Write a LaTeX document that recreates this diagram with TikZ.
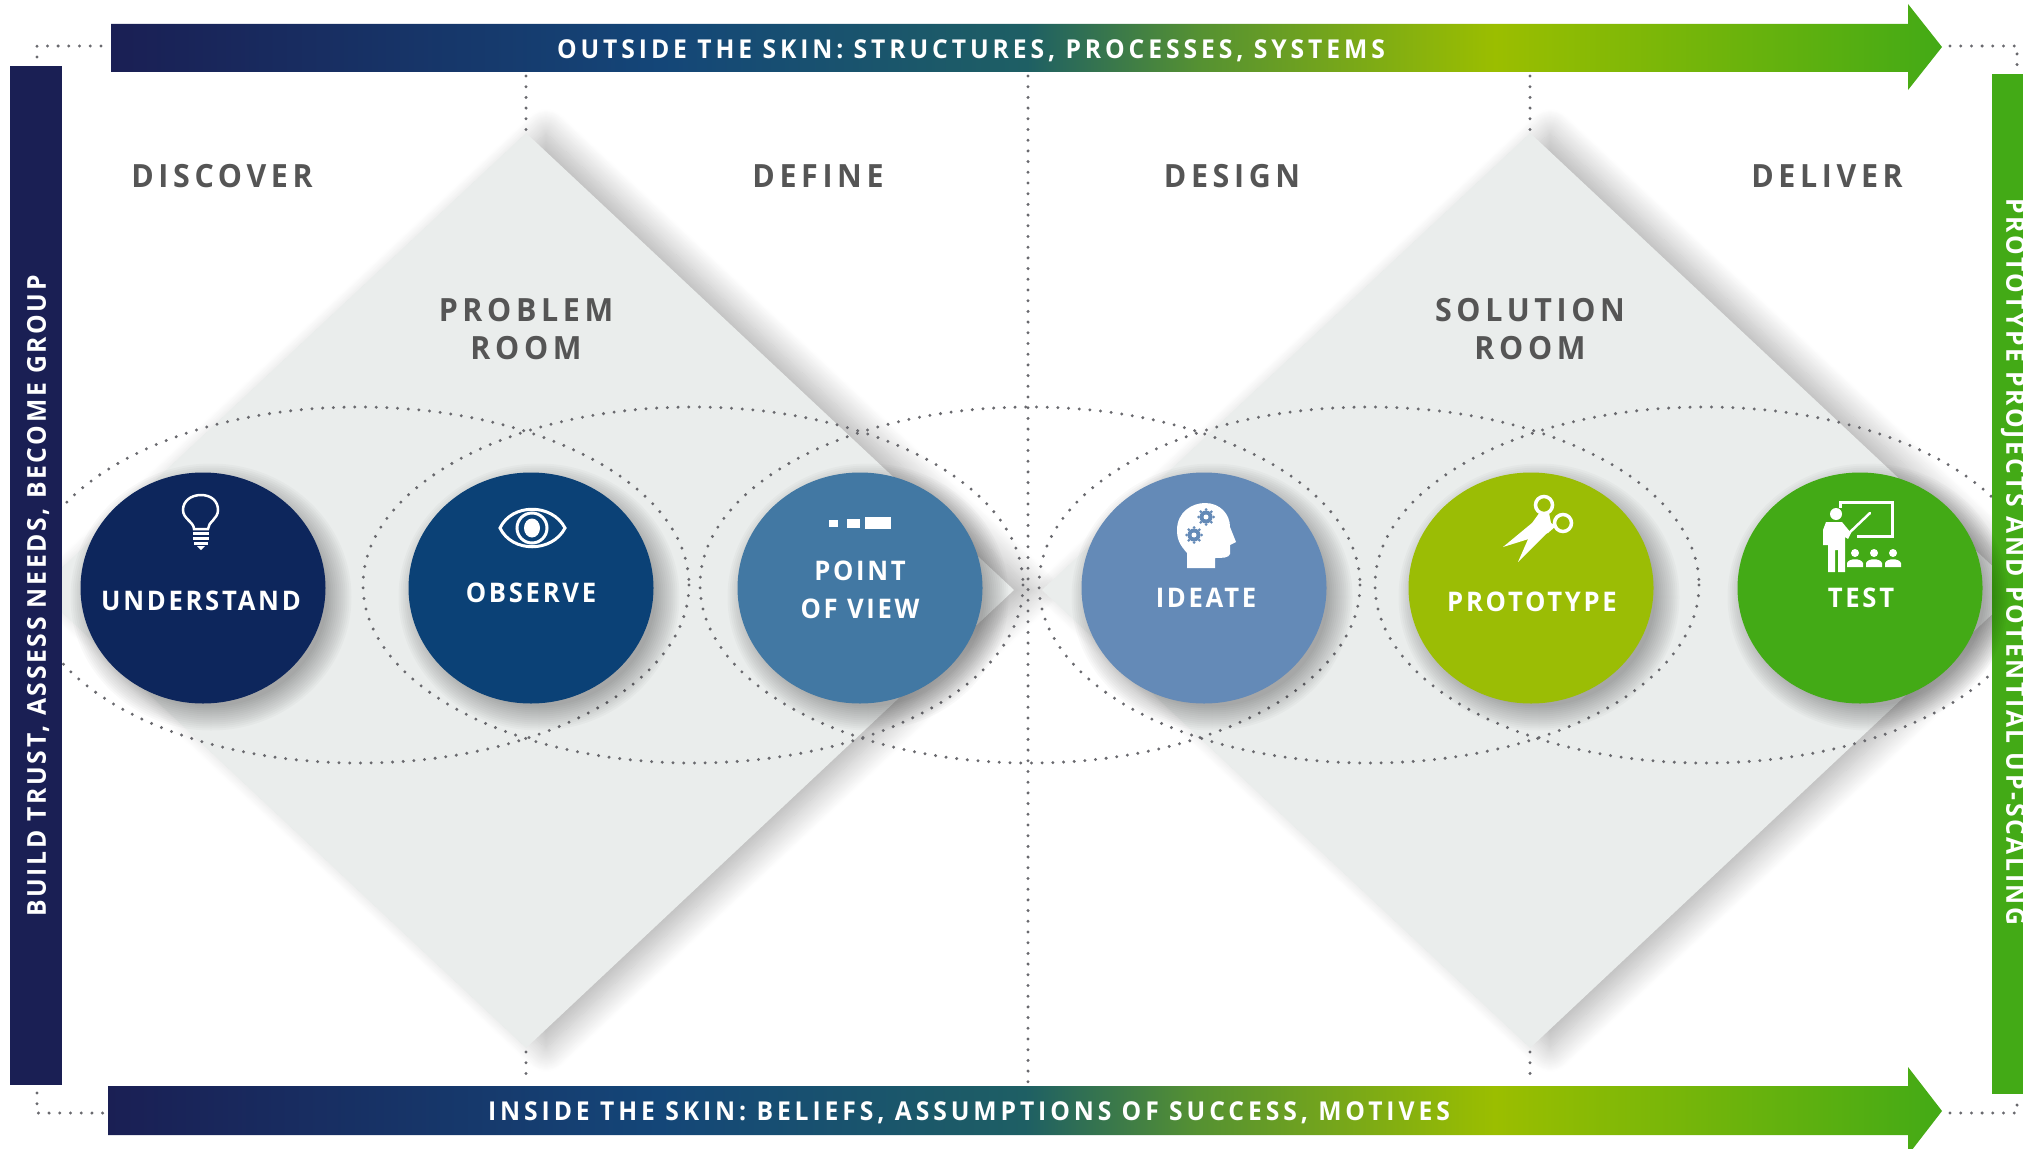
\documentclass[tikz,border=0pt]{standalone}
\usepackage{fontspec}
\setmainfont{Open Sans}
\newfontfamily\bandfont[LetterSpace=15,FakeStretch=0.95]{Open Sans}
\newfontfamily\sidefont[LetterSpace=10.3,FakeStretch=0.95]{Open Sans}
\newfontfamily\phasefont[LetterSpace=14.5,FakeStretch=0.95]{Open Sans}
\newfontfamily\stepfont[LetterSpace=10,FakeStretch=0.95]{Open Sans}
\usetikzlibrary{calc}
\usetikzlibrary{positioning}
\usetikzlibrary{shapes.geometric}
\usetikzlibrary{shadows.blur}

\definecolor{navyband}{RGB}{26,31,84}
\definecolor{midblue}{RGB}{20,70,120}
\definecolor{tealband}{RGB}{30,95,100}
\definecolor{oliveband}{RGB}{85,145,50}
\definecolor{limeband}{RGB}{155,190,0}
\definecolor{greenband}{RGB}{67,170,22}
\definecolor{roomgrey}{RGB}{234,237,236}
\definecolor{labelgrey}{RGB}{85,85,85}
\definecolor{dotgrey}{RGB}{105,105,110}
\definecolor{cunderstand}{RGB}{13,38,92}
\definecolor{cobserve}{RGB}{11,65,118}
\definecolor{cpoint}{RGB}{66,120,163}
\definecolor{cideate}{RGB}{100,138,183}
\definecolor{cproto}{RGB}{155,189,5}
\definecolor{ctest}{RGB}{67,170,22}

\pgfdeclarehorizontalshading{bandshade}{100bp}{
    color(0bp)=(navyband); color(25bp)=(navyband); color(40bp)=(midblue); color(50bp)=(tealband);
    color(54.7bp)=(oliveband); color(62.8bp)=(limeband); color(75bp)=(greenband); color(100bp)=(greenband)}

\tikzset{
    phase/.style={text=labelgrey,font=\phasefont\bfseries\fontsize{32}{32}\selectfont,inner sep=0pt},
    room/.style={text=labelgrey,font=\phasefont\bfseries\fontsize{32}{38}\selectfont,align=center,inner sep=0pt},
    band/.style={text=white,font=\bandfont\bfseries\fontsize{26}{26}\selectfont,inner sep=0pt},
    sideband/.style={text=white,font=\sidefont\bfseries\fontsize{26}{26}\selectfont,inner sep=0pt},
    steplabel/.style={text=white,font=\stepfont\bfseries\fontsize{27}{38}\selectfont,align=center,inner sep=0pt},
    stepdisc/.style={ellipse,draw=none,minimum width=245pt,minimum height=231pt,inner sep=0pt},
    roomshape/.style={fill=roomgrey,
        blur shadow={shadow xshift=20pt,shadow yshift=0pt,shadow blur radius=24pt,shadow blur steps=24,shadow opacity=30}},
    dotted line/.style={draw=dotgrey,line width=3.3pt,line cap=round,dash pattern=on 0pt off 10.7pt},
    icon/.style={draw=white,line width=2.5pt,fill=none},
}

\begin{document}
\begin{tikzpicture}[x=1pt,y=-1pt]
    \useasboundingbox (0,0) rectangle (2023,1148);
    \clip (0,0) rectangle (2023,1148);

    % the two rooms
    \fill[roomshape] (526,133) -- (1014,590) -- (526,1048) -- (38,590) -- cycle;
    \fill[roomshape] (1530,133) -- (2018,590) -- (1530,1048) -- (1042,590) -- cycle;

    % dotted guide lines
    \draw[dotted line] (37,57) -- (37,46) -- (103,46);
    \draw[dotted line] (37,1093) -- (37,1113) -- (103,1113);
    \draw[dotted line] (1950,46) -- (2017,46) -- (2017,67);
    \draw[dotted line] (1950,1113) -- (2017,1113) -- (2017,1103);
    \draw[dotted line] (526,76) -- (526,130);
    \draw[dotted line] (526,1052) -- (526,1084);
    \draw[dotted line] (1530,76) -- (1530,130);
    \draw[dotted line] (1530,1052) -- (1530,1084);
    \draw[dotted line] (1028,76) -- (1028,1084);

    % dotted ellipses round the steps
    \foreach \ex in {359,693,1030,1369,1705}{
        \draw[dotted line] (\ex,585) ellipse [x radius=330,y radius=178];
    }

    % bands
    \shade[shading=bandshade] (111,24) -- (1908,24) -- (1908,4) -- (1942,47) -- (1908,90) -- (1908,72) -- (111,72) -- cycle;
    \shade[shading=bandshade] (108,1086) -- (1908,1086) -- (1908,1067) -- (1942,1111) -- (1908,1155) -- (1908,1135) -- (108,1135) -- cycle;
    \fill[navyband] (10,66) rectangle (62,1085);
    \fill[greenband] (1992,74) rectangle (2023,1094);

    \node[band] (outside) at (971,51) {OUTSIDE THE SKIN: STRUCTURES, PROCESSES, SYSTEMS};
    \node[band] (inside) at (969,1113) {INSIDE THE SKIN: BELIEFS, ASSUMPTIONS OF SUCCESS, MOTIVES};
    \node[sideband,rotate=90] (trust) at (38,596) {BUILD TRUST, ASSESS NEEDS, BECOME GROUP};
    \node[sideband,rotate=-90] (scaling) at (2013,562) {PROTOTYPE PROJECTS AND POTENTIAL UP-SCALING};

    % phase and room labels
    \node[phase] (discover) at (222,176) {DISCOVER};
    \node[phase] (define) at (818,176) {DEFINE};
    \node[phase] (design) at (1232,176) {DESIGN};
    \node[phase] (deliver) at (1827,176) {DELIVER};
    \node[room] (problem) at (526,329) {PROBLEM\\ROOM};
    \node[room] (solution) at (1530,329) {SOLUTION\\ROOM};

    % soft shadow under the steps
    \foreach \sx in {203,531,860,1204,1531,1860}{
        \foreach \grow in {-6,-4,...,18}{
            \fill[black,opacity=0.025] (\sx+8,597) ellipse [x radius=122.5+\grow,y radius=115.5+\grow];
        }
    }

    % steps
    \node[stepdisc,fill=cunderstand] (understand) at (203,588) {};
    \node[stepdisc,fill=cobserve] (observe) at (531,588) {};
    \node[stepdisc,fill=cpoint] (point) at (860,588) {};
    \node[stepdisc,fill=cideate] (ideate) at (1204,588) {};
    \node[stepdisc,fill=cproto] (proto) at (1531,588) {};
    \node[stepdisc,fill=ctest] (test) at (1860,588) {};

    \node[steplabel] (understandtxt) at (201,601) {UNDERSTAND};
    \node[steplabel] (observetxt) at (531,593) {OBSERVE};
    \node[steplabel] (pointtxt) at (860,590) {POINT\\OF VIEW};
    \node[steplabel] (ideatetxt) at (1206,598) {IDEATE};
    \node[steplabel] (prototxt) at (1532,602) {PROTOTYPE};
    \node[steplabel] (testtxt) at (1861,598) {TEST};

    % bulb
    \draw[icon] (194,529) .. controls (194,522) and (183,519) .. (183,510) .. controls (183,501) and (191,495) .. (201,495) .. controls (211,495) and (218,501) .. (218,510) .. controls (218,519) and (208,522) .. (208,529) -- cycle;
    \fill[white] (193,532) rectangle (209,535);
    \fill[white] (193,537) rectangle (209,540);
    \fill[white] (194,542) rectangle (208,545);
    \fill[white] (197,546) -- (205,546) -- (201,550) -- cycle;
    % eye
    \draw[icon,line width=3pt] (500,528) .. controls (512,503) and (552,503) .. (565,528) .. controls (552,553) and (512,553) .. (500,528) -- cycle;
    \draw[icon,line width=3pt] (532,528) circle [x radius=15,y radius=15];
    \fill[white] (532,528) circle [x radius=8,y radius=9.5];
    % squares
    \fill[white] (829,520) rectangle (838,527);
    \fill[white] (847,519) rectangle (860,528);
    \fill[white] (865,517) rectangle (891,529);
    % head with gears
    \fill[white] (1187,568) -- (1187,553) .. controls (1180,545) and (1177,540) .. (1177,530) .. controls (1177,512) and (1192,503) .. (1205,503) .. controls (1220,503) and (1230,514) .. (1230,527) -- (1236,542) -- (1230,545) -- (1230,554) .. controls (1229,558) and (1222,558) .. (1215,558) -- (1215,568) -- cycle;
    \foreach \gx/\gy in {1206/517,1194/535}{
        \fill[cideate] (\gx,\gy) circle (6.5);
        \fill[white] (\gx,\gy) circle (2.5);
        \foreach \ang in {0,45,...,315}{
            \fill[cideate] ($(\gx,\gy)+(\ang:7.5)$) circle (1.5);
        }
    }
    % scissors
    \draw[icon,line width=3.5pt] (1544,505) circle (8.5);
    \draw[icon,line width=3.5pt] (1563,523) circle (8.5);
    \fill[white] (1540,512) -- (1549,513) -- (1551,523) -- (1556,526) -- (1548,533) -- (1503,547) -- (1532,523) -- cycle;
    \fill[white] (1536,521) -- (1549,531) -- (1518,562) -- cycle;
    % teacher at the board
    \draw[icon,line width=3pt] (1840,508) -- (1840,502) -- (1892,502) -- (1892,536) -- (1857,536);
    \draw[white,line width=2.5pt,line cap=round] (1848,534) -- (1870,513);
    \fill[white] (1836,514) circle (6);
    \fill[white] (1826,522) -- (1842,522) -- (1851,533) -- (1848,539) -- (1845,537) -- (1845,572) -- (1838,572) -- (1838,550) -- (1835,550) -- (1835,572) -- (1828,572) -- (1828,545) -- (1823,545) -- (1823,530) -- cycle;
    \foreach \px in {1855,1874,1893}{
        \fill[white] (\px,553) circle (4);
        \fill[white] (\px-8,567) -- (\px-8,563) .. controls (\px-6,558) and (\px+6,558) .. (\px+8,563) -- (\px+8,567) -- cycle;
    }
\end{tikzpicture}
\end{document}
